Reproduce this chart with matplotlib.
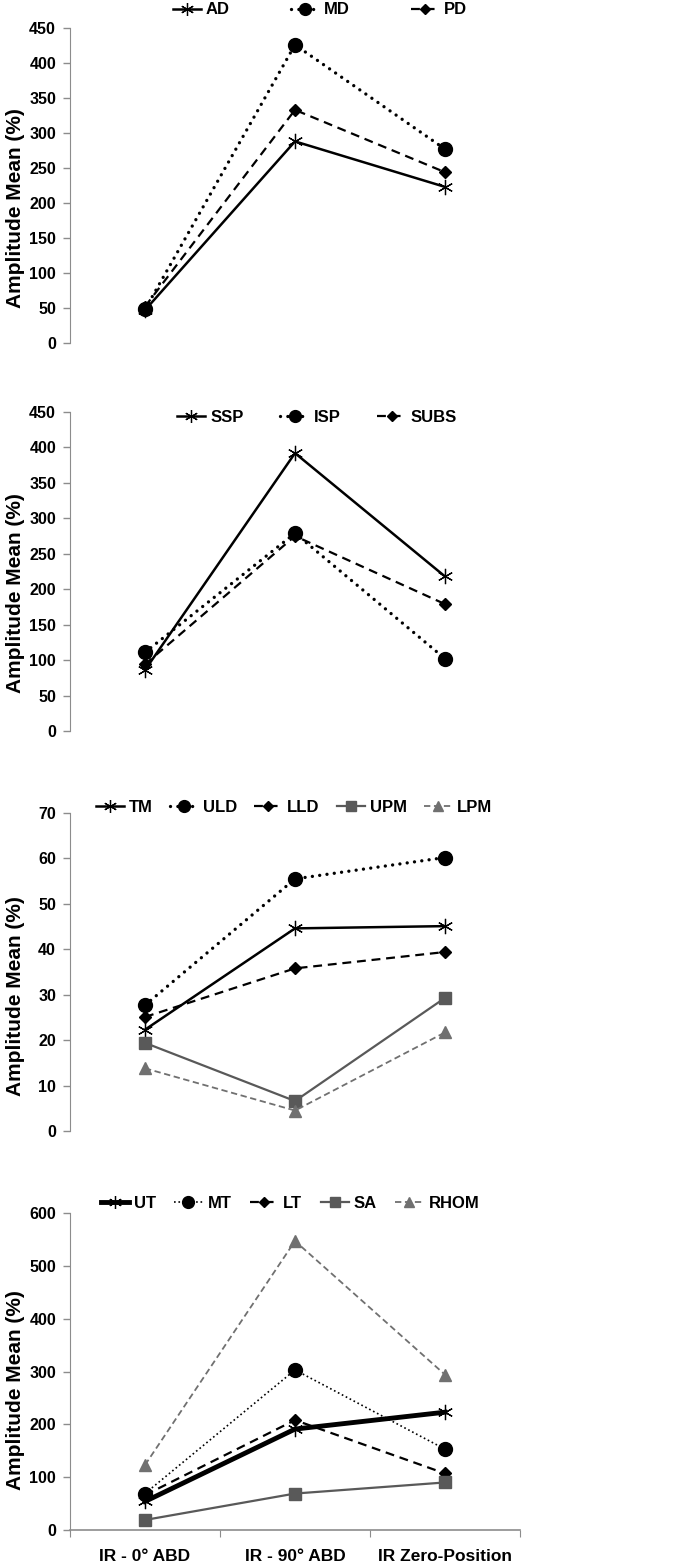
import matplotlib
matplotlib.use('Agg')
import matplotlib.pyplot as plt
from matplotlib import font_manager

# fonts: narrow bold for ticks and legends, regular bold for the y label
names = {f.name for f in font_manager.fontManager.ttflist}
narrow = ['Liberation Sans Narrow', 'Liberation Sans', 'DejaVu Sans']
narrow = [n for n in narrow if n in names] or ['DejaVu Sans']
wide = ['Liberation Sans', 'DejaVu Sans']

positions = ['IR - 0° ABD', 'IR - 90° ABD', 'IR Zero-Position']

# panel 1: deltoid
p1_names = ['AD', 'MD', 'PD']
ad = [47, 288, 223]
md = [48, 426, 277]
pd_ = [52, 333, 244]

# panel 2: rotator cuff
p2_names = ['SSP', 'ISP', 'SUBS']
ssp = [86, 392, 218]
isp = [111, 279, 102]
subs = [94, 275, 179]

# panel 3
p3_names = ['TM', 'ULD', 'LLD', 'UPM', 'LPM']
tm = [22.3, 44.6, 45.1]
uld = [27.7, 55.5, 60.2]
lld = [25.1, 35.8, 39.4]
upm = [19.4, 6.6, 29.3]
lpm = [13.8, 4.5, 21.7]

# panel 4: scapular muscles
p4_names = ['UT', 'MT', 'LT', 'SA', 'RHOM']
ut = [54, 191, 223]
mt = [69, 303, 153]
lt = [66, 208, 107]
sa = [19, 69, 90]
rhom = [123, 547, 294]

x = range(len(positions))

star = dict(marker=(6, 2, 0), ms=11, mew=0.9, color='black')
circle = dict(marker='o', ms=10, color='black')
diamond = dict(marker='D', ms=6, color='black')
square = dict(marker='s', ms=8, color='#595959')
tri = dict(marker='^', ms=8, color='#707070')
dots = dict(ls=(0, (0.01, 2.2)), lw=2.4, dash_capstyle='round')
dash = dict(ls=(0, (4, 2.6)), lw=1.6)

fig = plt.figure(figsize=(6.97, 15.68), dpi=100)
left, width = 70 / 697, 450 / 697
boxes = [(28, 343), (412, 731), (813, 1131), (1213, 1530)]
axes = []
for top, bot in boxes:
    ax = fig.add_axes([left, 1 - bot / 1568, width, (bot - top) / 1568])
    axes.append(ax)

ax1, ax2, ax3, ax4 = axes

ax1.plot(x, ad, lw=1.8, **star, label=p1_names[0])
ax1.plot(x, md, **dots, **circle, label=p1_names[1])
ax1.plot(x, pd_, **dash, **diamond, label=p1_names[2])
ax1.set_ylim(0, 450)
ax1.set_yticks(range(0, 451, 50))

ax2.plot(x, ssp, lw=1.8, **star, label=p2_names[0])
ax2.plot(x, isp, **dots, **circle, label=p2_names[1])
ax2.plot(x, subs, **dash, **diamond, label=p2_names[2])
ax2.set_ylim(0, 450)
ax2.set_yticks(range(0, 451, 50))

ax3.plot(x, tm, lw=1.8, **star, label=p3_names[0])
ax3.plot(x, uld, **dots, **circle, label=p3_names[1])
ax3.plot(x, lld, **dash, **diamond, label=p3_names[2])
ax3.plot(x, upm, lw=1.6, **square, label=p3_names[3])
ax3.plot(x, lpm, ls=(0, (3.5, 2)), lw=1.3, **tri, label=p3_names[4])
ax3.set_ylim(0, 70)
ax3.set_yticks(range(0, 71, 10))

ax4.plot(x, ut, lw=3.5, **star, label=p4_names[0])
ax4.plot(x, mt, ls=':', lw=1.2, **circle, label=p4_names[1])
ax4.plot(x, lt, **dash, **diamond, label=p4_names[2])
ax4.plot(x, sa, lw=1.6, **square, label=p4_names[3])
ax4.plot(x, rhom, ls=(0, (3.5, 2)), lw=1.3, **tri, label=p4_names[4])
ax4.set_ylim(0, 600)
ax4.set_yticks(range(0, 601, 100))

label_y = [0.427, 0.433, 0.425, 0.443]
for ax, ly in zip(axes, label_y):
    ax.set_xlim(-0.5, 2.5)
    for s in ['top', 'right']:
        ax.spines[s].set_visible(False)
    ax.spines['left'].set_color('#8c8c8c')
    ax.tick_params(axis='y', color='#8c8c8c', length=5, width=1, pad=5)
    for lab in ax.get_yticklabels():
        lab.set_family(narrow)
        lab.set_fontweight('bold')
        lab.set_fontsize(11.5)
    ax.set_ylabel('Amplitude Mean (%)', family=wide, fontweight='bold', fontsize=15)
    ax.yaxis.set_label_coords(-0.1, ly)
    for line in ax.get_lines():
        line.set_clip_on(False)

for ax in axes[:3]:
    ax.spines['bottom'].set_visible(False)
    ax.set_xticks([])

ax4.spines['bottom'].set_color('#8c8c8c')
ax4.spines['bottom'].set_linewidth(1.2)
ax4.set_xticks([-0.5, 0.5, 1.5, 2.5])
ax4.set_xticklabels([])
ax4.tick_params(axis='x', which='major', color='#8c8c8c', length=5)
ax4.set_xticks(list(x), minor=True)
ax4.set_xticklabels(positions, minor=True, family=narrow, fontweight='bold', fontsize=12.5)
ax4.tick_params(axis='x', which='minor', length=0, pad=14)

# legend centre (fig coords), columns, column spacing
legend_spots = [(320 / 697, 1 - 10 / 1568, 3, 3.65),
                (317 / 697, 1 - 417 / 1568, 3, 2.2),
                (294 / 697, 1 - 807 / 1568, 5, 1.0),
                (290 / 697, 1 - 1203 / 1568, 5, 1.1)]
for ax, (lx, ly, nc, cs) in zip(axes, legend_spots):
    fig.legend(handles=ax.get_lines(), loc='center', bbox_to_anchor=(lx, ly),
               ncol=nc, frameon=False, handlelength=1.7, handletextpad=0.3,
               columnspacing=cs, borderpad=0, markerscale=0.85,
               prop=dict(family=narrow, weight='bold', size=12))

fig.savefig('out.png', dpi=100)
